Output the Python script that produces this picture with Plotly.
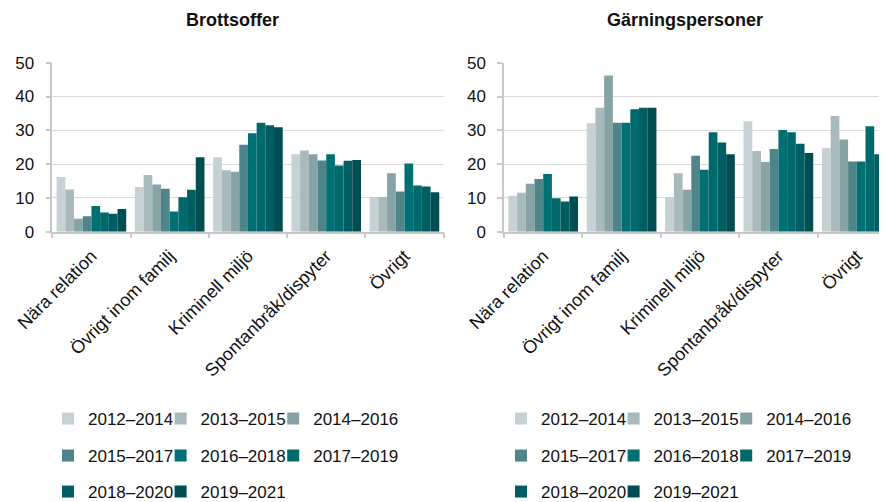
import plotly.graph_objects as go

categories = ["Nära relation", "Övrigt inom familj", "Kriminell miljö", "Spontanbråk/dispyter", "Övrigt"]
periods = ["2012–2014", "2013–2015", "2014–2016", "2015–2017", "2016–2018", "2017–2019", "2018–2020", "2019–2021"]
colors = ["#C5D1D2", "#A9BABC", "#87A3A6", "#4F8589", "#007074", "#00696C", "#005D61", "#004E52"]

# Brottsoffer: values per period, one per category
victims = {
    "2012–2014": [16.2, 13.2, 22.0, 22.9, 10.3],
    "2013–2015": [12.5, 16.8, 18.2, 24.0, 10.3],
    "2014–2016": [3.8, 14.0, 17.7, 22.9, 17.3],
    "2015–2017": [4.6, 12.7, 25.7, 21.1, 11.9],
    "2016–2018": [7.6, 6.0, 29.1, 22.9, 20.2],
    "2017–2019": [5.7, 10.2, 32.2, 19.6, 13.7],
    "2018–2020": [5.3, 12.4, 31.5, 21.0, 13.4],
    "2019–2021": [6.7, 22.0, 30.9, 21.2, 11.7],
}
# Gärningspersoner
offenders = {
    "2012–2014": [10.6, 32.1, 10.3, 32.7, 24.8],
    "2013–2015": [11.5, 36.7, 17.3, 23.9, 34.2],
    "2014–2016": [14.2, 46.2, 12.4, 20.6, 27.3],
    "2015–2017": [15.6, 32.2, 22.5, 24.5, 20.8],
    "2016–2018": [17.1, 32.2, 18.3, 30.1, 20.8],
    "2017–2019": [9.9, 36.2, 29.4, 29.4, 31.2],
    "2018–2020": [8.9, 36.7, 26.4, 26.0, 22.9],
    "2019–2021": [10.4, 36.7, 22.9, 23.3, 20.6],
}

# The page body adds an 8px offset; figure coordinates = reference pixels - 8
OFF = 8
W, H = 896, 502
FONT = "Arial, 'Liberation Sans', sans-serif"

def px_x(x):
    return (x - OFF) / W

def px_y(y):
    return 1 - (y - OFF) / H

fig = go.Figure()

# legend text start x per column and row center y (reference pixels)
left_cols = [88, 200.6, 313.2]
right_cols = [541, 653.6, 766.2]
rows = [419, 456, 492]

legends_layout = {}
idx = 1
for data, xa, ya, cols in [(victims, "x", "y", left_cols), (offenders, "x2", "y2", right_cols)]:
    for i, p in enumerate(periods):
        idx += 1
        lname = f"legend{idx}"
        fig.add_trace(go.Bar(
            x=categories, y=data[p], name=p, marker_color=colors[i],
            marker_line_width=0, xaxis=xa, yaxis=ya, legend=lname,
        ))
        col = i % 3
        row = i // 3
        legends_layout[lname] = dict(
            x=px_x(cols[col] - 40), y=px_y(rows[row]),
            xanchor="left", yanchor="middle", orientation="h",
            bgcolor="rgba(0,0,0,0)", borderwidth=0,
            font=dict(family=FONT, size=17, color="#111111"),
            itemclick=False, itemdoubleclick=False,
        )

axis_common_x = dict(
    type="category", showgrid=False, showline=True, linecolor="#C8C8C8", linewidth=1.5,
    ticks="outside", tickson="boundaries", ticklen=5, tickcolor="#C8C8C8", tickwidth=1.5,
    tickangle=-45, tickfont=dict(family=FONT, size=18, color="#111111"), fixedrange=True,
    automargin=False, ticklabelstandoff=5,
)
axis_common_y = dict(
    range=[0, 50], dtick=10, showgrid=True, gridcolor="#DCDCDC", gridwidth=1,
    showline=True, linecolor="#C8C8C8", linewidth=1.5, ticks="outside", ticklen=5,
    tickcolor="#C8C8C8", tickwidth=1.5, zeroline=False, ticklabelstandoff=8,
    tickfont=dict(family=FONT, size=17, color="#111111"), fixedrange=True,
    automargin=False,
)

y_dom = [px_y(231.7), px_y(62.7)]
left_dom = [px_x(52.3), px_x(443.6)]
right_dom = [px_x(504), px_x(896)]

fig.update_layout(
    width=W, height=H, margin=dict(l=0, r=0, t=0, b=0, autoexpand=False),
    paper_bgcolor="white", plot_bgcolor="white",
    barmode="group", bargap=0.111, bargroupgap=0,
    font=dict(family=FONT, color="#111111"),
    xaxis=dict(domain=left_dom, anchor="y", range=[-0.5, 4.5], **axis_common_x),
    yaxis=dict(domain=y_dom, anchor="x", **axis_common_y),
    xaxis2=dict(domain=right_dom, anchor="y2", range=[-0.5, 4.5], **axis_common_x),
    yaxis2=dict(domain=y_dom, anchor="x2", **axis_common_y),
    annotations=[
        dict(text="<b>Brottsoffer</b>", x=px_x(232.7), y=px_y(20), xref="paper", yref="paper",
             xanchor="center", yanchor="middle", showarrow=False,
             font=dict(family=FONT, size=18, color="#111111")),
        dict(text="<b>Gärningspersoner</b>", x=px_x(684.5), y=px_y(20), xref="paper", yref="paper",
             xanchor="center", yanchor="middle", showarrow=False,
             font=dict(family=FONT, size=18, color="#111111")),
    ],
    **legends_layout,
)

fig.write_html("out.html")
